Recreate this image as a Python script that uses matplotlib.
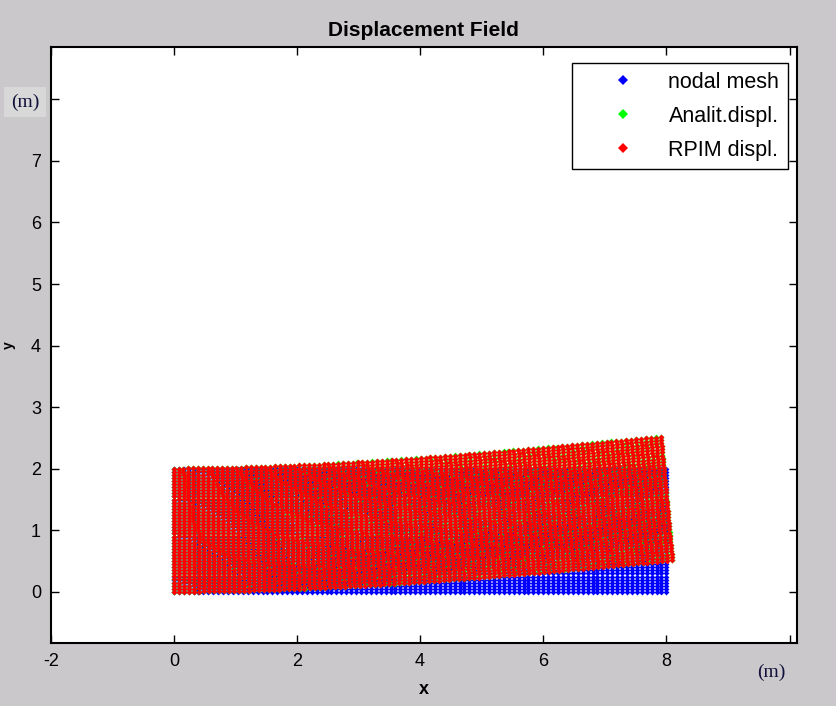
import numpy as np
import matplotlib
matplotlib.use("Agg")
import matplotlib.pyplot as plt

# beam / mesh description
beam_length = 8.0
beam_height = 2.0
n_cols = 101         # nodes along x
n_rows = 41          # nodes along y
tip_deflection = 0.52   # centre-line deflection at x = L (scaled)
poisson = 0.3
rpim_ratio = 0.99       # RPIM tip displacement relative to analytic

x_ticks = [-2, 0, 2, 4, 6, 8, 10]
x_tick_labels = ["-2", "0", "2", "4", "6", "8", ""]
y_ticks = [0, 1, 2, 3, 4, 5, 6, 7, 8]
y_tick_labels = ["0", "1", "2", "3", "4", "5", "6", "7", ""]
legend_labels = ["nodal mesh", "Analit.displ.", "RPIM displ."]

# nodal mesh
xs = np.linspace(0, beam_length, n_cols)
ys = np.linspace(0, beam_height, n_rows)
X, Y = np.meshgrid(xs, ys)
X = X.ravel()
Y = Y.ravel()


def timoshenko(x, y, scale):
    # cantilever under tip load, normalised so the tip deflection == scale
    L, D, nu = beam_length, beam_height, poisson
    yc = y - D / 2
    ux = -yc * ((6 * L - 3 * x) * x + (2 + nu) * (yc ** 2 - D ** 2 / 4))
    uy = 3 * nu * yc ** 2 * (L - x) + (4 + 5 * nu) * D ** 2 * x / 4 + (3 * L - x) * x ** 2
    tip = (4 + 5 * nu) * D ** 2 * L / 4 + 2 * L ** 3
    return ux * scale / tip, uy * scale / tip


ux_a, uy_a = timoshenko(X, Y, tip_deflection)
ux_r, uy_r = timoshenko(X, Y, tip_deflection * rpim_ratio)

bg = "#cac8ca"
fig = plt.figure(figsize=(8.37, 7.06), dpi=100, facecolor=bg)
ax = fig.add_axes([0.0606, 0.0892, 0.8915, 0.8442])
ax.set_facecolor("white")

ms = 3.0
ax.plot(X, Y, "D", color="#0000ff", ms=ms, mew=0, label=legend_labels[0])
ax.plot(X + ux_a, Y + uy_a, "D", color="#00ff00", ms=ms, mew=0, label=legend_labels[1])
ax.plot(X + ux_r, Y + uy_r, "D", color="#ff0000", ms=ms, mew=0, label=legend_labels[2])

ax.set_xlim(-2.0, 10.12)
ax.set_ylim(-0.83, 8.85)

fam = ["Liberation Sans", "DejaVu Sans"]
ax.set_xticks(x_ticks)
ax.set_xticklabels(x_tick_labels, family=fam, fontsize=13)
ax.set_yticks(y_ticks)
ax.set_yticklabels(y_tick_labels, family=fam, fontsize=13)
ax.tick_params(direction="in", length=6, width=1, top=True, right=True, pad=7)
for s in ax.spines.values():
    s.set_linewidth(1.5)

ax.set_title("Displacement Field", family=fam, fontweight="bold", fontsize=15, pad=8)
ax.set_xlabel("x", family=fam, fontweight="bold", fontsize=13, labelpad=8)

# y label squeezed at the left edge, plus the pasted unit labels
fig.text(0.002, 1 - 345 / 706, "y", rotation=90, ha="left", va="center",
         family=fam, fontweight="bold", fontsize=10)
fig.text(25 / 837, 1 - 102 / 706, "(m)", family="Liberation Serif", fontsize=14,
         color="#10103a", ha="center", va="center",
         bbox=dict(boxstyle="square,pad=0.35", fc="#d8d8d8", ec="none"))
fig.text(771 / 837, 1 - 672 / 706, "(m)", family="Liberation Serif", fontsize=14,
         color="#10103a", ha="center", va="center")

leg = ax.legend(loc="upper right", bbox_to_anchor=(0.988, 0.973), borderaxespad=0,
                prop={"family": "Liberation Sans", "size": 15.5}, numpoints=1,
                handlelength=4.0, handletextpad=0.1, labelspacing=0.6,
                borderpad=0.4, fancybox=False, framealpha=1, edgecolor="black",
                markerscale=1.6)
leg.get_frame().set_linewidth(1.0)

fig.savefig("out.png", dpi=100, facecolor=bg)
